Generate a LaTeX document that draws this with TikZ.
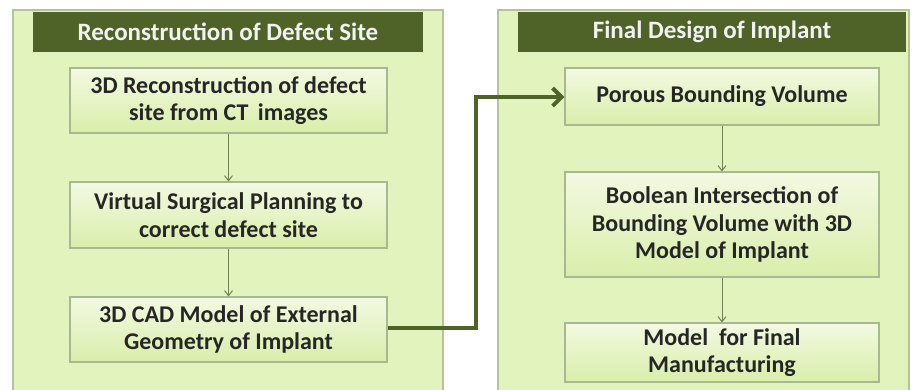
\documentclass[tikz,border=0pt]{standalone}
\usepackage{fontspec}
\setmainfont{Carlito}
\usetikzlibrary{arrows.meta,calc}
\definecolor{panelfill}{HTML}{E2F3BE}
\definecolor{panelborder}{HTML}{B4C49A}
\definecolor{headfill}{HTML}{4F6228}
\definecolor{boxtop}{HTML}{F3F9E2}
\definecolor{boxbot}{HTML}{D9EEAA}
\definecolor{boxborder}{HTML}{A8B890}
\definecolor{txt}{HTML}{262626}
\definecolor{link}{HTML}{4F6228}
\tikzset{
  panel/.style={draw=panelborder,line width=1.5pt,fill=panelfill},
  header/.style={fill=headfill,draw=none,text=white!95!black,font=\bfseries\fontsize{25}{28}\selectfont},
  stepbox/.style={draw=boxborder,line width=1.2pt,top color=boxtop,bottom color=boxbot,
     text=txt,font=\bfseries\fontsize{24}{27.5}\selectfont,align=center,inner sep=0pt},
  flow/.style={draw=link!80,line width=1pt,-{Straight Barb[length=5pt,width=8pt,line width=1pt]}},
  bigflow/.style={draw=link,line width=4pt,-{Straight Barb[length=9pt,width=18pt,line width=4pt]}}
}
\begin{document}
\begin{tikzpicture}[x=1pt,y=-1pt]
\useasboundingbox (0,0) rectangle (915,389);
% panels
\path[panel] (13,10) rectangle (443,395);
\path[panel] (498,10) rectangle (909,395);
% headers
\node[header,minimum width=390pt,minimum height=40pt] (hl) at (228,32) {Reconstruction of Defect Site};
\node[header,minimum width=388pt,minimum height=40pt] (hr) at (712,32) {Final Design of Implant};
% left boxes
\node[stepbox,minimum width=317pt,minimum height=65pt] (a1) at (228.5,100.5) {3D Reconstruction of defect\\site from CT\,\ images};
\node[stepbox,minimum width=317pt,minimum height=66pt] (a2) at (228.5,215) {Virtual Surgical Planning to\\correct defect site};
\node[stepbox,minimum width=317pt,minimum height=65pt] (a3) at (228.5,329.5) {3D CAD Model of External\\Geometry of Implant};
% right boxes
\node[stepbox,minimum width=314pt,minimum height=57pt] (b1) at (722,96.5) {Porous Bounding Volume};
\node[stepbox,minimum width=314pt,minimum height=105pt] (b2) at (722,224.5) {Boolean Intersection of\\Bounding Volume with 3D\\Model of Implant};
\node[stepbox,minimum width=314pt,minimum height=59pt] (b3) at (722,352.5) {Model\ \ for Final\\Manufacturing};
% arrows
\draw[flow] (a1.south) -- (a2.north);
\draw[flow] (a2.south) -- (a3.north);
\draw[flow] (b1.south) -- (b2.north);
\draw[flow] (b2.south) -- (b3.north);
\coordinate (c1) at (476,328);
\coordinate (c2) at (476,97);
\draw[bigflow] (a3.east |- c1) -- (c1) -- (c2) -- (b1.west |- c2);
\end{tikzpicture}
\end{document}
